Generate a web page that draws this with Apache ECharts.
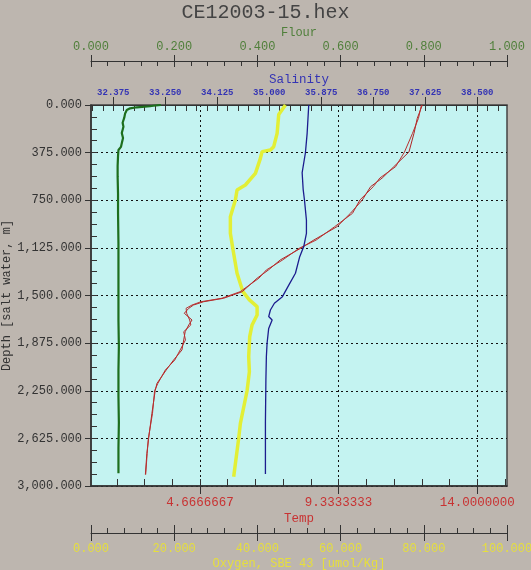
<!DOCTYPE html>
<html>
<head>
<meta charset="utf-8">
<script src="https://cdn.jsdelivr.net/npm/echarts@6/dist/echarts.min.js"></script>
<style>
html,body{margin:0;padding:0;background:#bdb6af;}
#c{width:531px;height:570px;}
</style>
</head>
<body>
<div id="c"></div>
<script>
// ---- data ----
const tempDepth = [0,105,223,370,486,575,643,748,853,958,1063,1129,1220,1299,1364,1470,1522,1549,1575,1601,1640,1693,1732,1785,1850,1929,2008,2087,2192,2250,2428,2625,2743,2910];
const tempDown  = [12.15,11.98,11.87,11.70,11.19,10.80,10.41,10.13,9.73,9.28,8.50,8.05,7.37,6.97,6.59,6.09,5.46,4.79,4.45,4.29,4.14,4.40,4.29,4.17,4.12,4.06,3.78,3.53,3.22,3.16,3.05,2.94,2.88,2.83];
const tempUp    = [12.12,12.02,11.82,11.55,11.25,10.72,10.50,10.05,9.80,9.20,8.58,8.00,7.45,6.90,6.65,6.02,5.40,4.70,4.40,4.20,4.22,4.32,4.36,4.12,4.18,4.00,3.82,3.50,3.25,3.14,3.07,2.93,2.89,2.84];

const salDepth = [0,223,376,533,664,748,906,1010,1115,1194,1325,1430,1509,1561,1614,1666,1693,1759,1876,1981,2165,2500,2905];
const salinity = [35.664,35.637,35.608,35.553,35.570,35.592,35.625,35.625,35.580,35.512,35.440,35.314,35.221,35.086,35.019,34.990,35.048,34.990,34.963,34.951,34.943,34.935,34.935];

const oxyDepth = [0,74,223,328,354,367,420,538,630,669,748,879,1010,1142,1325,1470,1535,1588,1653,1732,1824,1981,2100,2250,2507,2625,2927];
const oxygen   = [46.74,45.13,44.74,43.92,43.13,41.13,40.72,39.52,37.11,35.11,34.71,33.50,33.50,34.15,35.11,36.51,38.07,39.93,39.93,38.72,38.15,37.91,38.07,37.52,35.91,35.50,34.30];

const flourDepth = [0,6,10,18,26,40,66,100,140,171,220,260,302,330,354,400,480,564,700,850,1089,1300,1483,1700,1900,2087,2300,2500,2700,2900];
const flour      = [0.168,0.150,0.142,0.110,0.094,0.086,0.082,0.080,0.076,0.078,0.074,0.077,0.074,0.072,0.066,0.065,0.064,0.064,0.065,0.065,0.066,0.066,0.066,0.066,0.067,0.066,0.066,0.067,0.066,0.066];

const tempLabels = [14/3, 28/3, 14];
const salLabels = [32.375,33.25,34.125,35.0,35.875,36.75,37.625,38.5];

// ---- tick positions ----
const tempMinor = [];
for (let k = 2; k <= 16; k++) tempMinor.push(k * 14 / 15);
const salMinor = [];
for (let k = -2; k <= 37; k++) salMinor.push(32.375 + 0.175 * k);

const FONT = "'Liberation Mono', 'DejaVu Sans Mono', monospace";
const AX = '#333';

function pairs(xs, ds){ return xs.map((v,i)=>[v, ds[i]]); }

const chart = echarts.init(document.getElementById('c'), null, {renderer:'canvas'});

const hidden = {show:false};
const xAxes = [
  {type:'value', position:'bottom', offset:0, min:1, max:15,
   axisLine:{show:true, onZero:false, lineStyle:{color:AX, width:1.5}},
   axisTick:{show:true, inside:true, length:7, customValues:tempMinor, lineStyle:{color:AX}},
   axisLabel:hidden, splitLine:hidden},
  {type:'value', position:'bottom', offset:0, min:1, max:15,
   axisLine:{show:false, onZero:false},
   axisTick:{show:true, inside:false, length:8, customValues:tempLabels, lineStyle:{color:AX}},
   axisLabel:{show:true, customValues:tempLabels, margin:10, color:'#c83232', fontFamily:FONT, fontSize:12.5,
     formatter:v=>v.toFixed(7)},
   splitLine:{show:true, lineStyle:{color:'#111', type:[2,3], width:1}},
   name:'Temp', nameLocation:'middle', nameGap:26, nameMoveOverlap:false,
   nameTextStyle:{color:'#c83232', fontFamily:FONT, fontSize:12.5}},
  {type:'value', position:'top', offset:0, min:32, max:39,
   axisLine:{show:true, onZero:false, lineStyle:{color:AX}},
   axisTick:{show:true, inside:true, length:6, customValues:salMinor, lineStyle:{color:AX}},
   axisLabel:hidden, splitLine:hidden},
  {type:'value', position:'top', offset:0, min:32, max:39,
   axisLine:{show:false, onZero:false},
   axisTick:{show:true, inside:false, length:8, customValues:salLabels, lineStyle:{color:AX}},
   axisLabel:{show:true, customValues:salLabels, margin:8, color:'#3434b4', fontFamily:FONT, fontSize:9, fontWeight:'bold',
     formatter:v=>v.toFixed(3)},
   splitLine:hidden,
   name:'Salinity', nameLocation:'middle', nameGap:19, nameMoveOverlap:false,
   nameTextStyle:{color:'#3434b4', fontFamily:FONT, fontSize:12.5}},
  {type:'value', position:'top', offset:44, min:0, max:1, interval:0.2,
   axisLine:{show:true, onZero:false, lineStyle:{color:AX}},
   axisTick:{show:true, inside:true, length:6, lineStyle:{color:AX}},
   minorTick:{show:true, splitNumber:5, length:5, lineStyle:{color:AX}},
   axisLabel:{show:true, margin:8, color:'#4f7f3a', fontFamily:FONT, fontSize:12, formatter:v=>v.toFixed(3)},
   splitLine:hidden,
   name:'Flour', nameLocation:'middle', nameGap:22, nameMoveOverlap:false,
   nameTextStyle:{color:'#4f7f3a', fontFamily:FONT, fontSize:12}},
  {type:'value', position:'top', offset:44, min:0, max:1, interval:0.2,
   axisLine:{show:false, onZero:false},
   axisTick:{show:true, inside:false, length:6, lineStyle:{color:AX}},
   axisLabel:hidden, splitLine:hidden},
  {type:'value', position:'bottom', offset:47, min:0, max:100, interval:20,
   axisLine:{show:true, onZero:false, lineStyle:{color:AX}},
   axisTick:{show:true, inside:true, length:8, lineStyle:{color:AX}},
   minorTick:{show:true, splitNumber:5, length:5, lineStyle:{color:AX}},
   axisLabel:{show:true, margin:10, color:'#e6df3c', fontFamily:FONT, fontSize:12, formatter:v=>v.toFixed(3)},
   splitLine:hidden,
   name:'Oxygen, SBE 43 [umol/Kg]', nameLocation:'middle', nameGap:25, nameMoveOverlap:false,
   nameTextStyle:{color:'#e6df3c', fontFamily:FONT, fontSize:12}},
  {type:'value', position:'bottom', offset:47, min:0, max:100, interval:20,
   axisLine:{show:false, onZero:false},
   axisTick:{show:true, inside:false, length:8, lineStyle:{color:AX}},
   axisLabel:hidden, splitLine:hidden}
];

const yAxes = [
  {type:'value', position:'left', min:0, max:3000, interval:375, inverse:true,
   axisLine:{show:true, onZero:false, lineStyle:{color:AX, width:1.5}},
   axisTick:{show:true, inside:true, length:6, lineStyle:{color:AX}},
   minorTick:{show:true, splitNumber:4, length:6, lineStyle:{color:AX}},
   axisLabel:hidden,
   splitLine:{show:true, lineStyle:{color:'#111', type:[2,3], width:1}}},
  {type:'value', position:'left', min:0, max:3000, interval:375, inverse:true,
   axisLine:{show:false, onZero:false},
   axisTick:{show:true, inside:false, length:6, lineStyle:{color:AX}},
   axisLabel:{show:true, margin:9, color:'#333', fontFamily:FONT, fontSize:12,
     formatter:v=>v.toLocaleString('en-US',{minimumFractionDigits:3, maximumFractionDigits:3})},
   splitLine:hidden,
   name:'Depth [salt water, m]', nameLocation:'middle', nameRotate:90, nameGap:78, nameMoveOverlap:false,
   nameTextStyle:{color:'#333', fontFamily:FONT, fontSize:12}}
];

function line(name, xi, data, color, width){
  return {name, type:'line', xAxisIndex:xi, yAxisIndex:0, data, showSymbol:false, symbol:'none',
    smooth:false, animation:false, lineStyle:{color, width}, z:3};
}

chart.setOption({
  animation:false,
  backgroundColor:'#bdb6af',
  title:{text:'CE12003-15.hex', left:'center', top:-2,
    textStyle:{fontFamily:FONT, fontSize:20, fontWeight:'normal', color:'#444'}},
  grid:{left:91, right:24, top:105, bottom:84, show:true, backgroundColor:'#c4f3f1',
    borderColor:'#444', borderWidth:1.5, containLabel:false, outerBoundsMode:'none'},
  xAxis:xAxes,
  yAxis:yAxes,
  series:[
    line('Flour', 4, pairs(flour, flourDepth), '#1d6e1d', 2.2),
    line('Oxygen', 6, pairs(oxygen, oxyDepth), '#e2ef36', 3.5),
    line('Temp down', 0, pairs(tempDown, tempDepth), '#b02424', 1),
    line('Temp up', 0, pairs(tempUp, tempDepth), '#b83030', 1),
    line('Salinity', 2, pairs(salinity, salDepth), '#1c1c8e', 1.3)
  ]
});
</script>
</body>
</html>
